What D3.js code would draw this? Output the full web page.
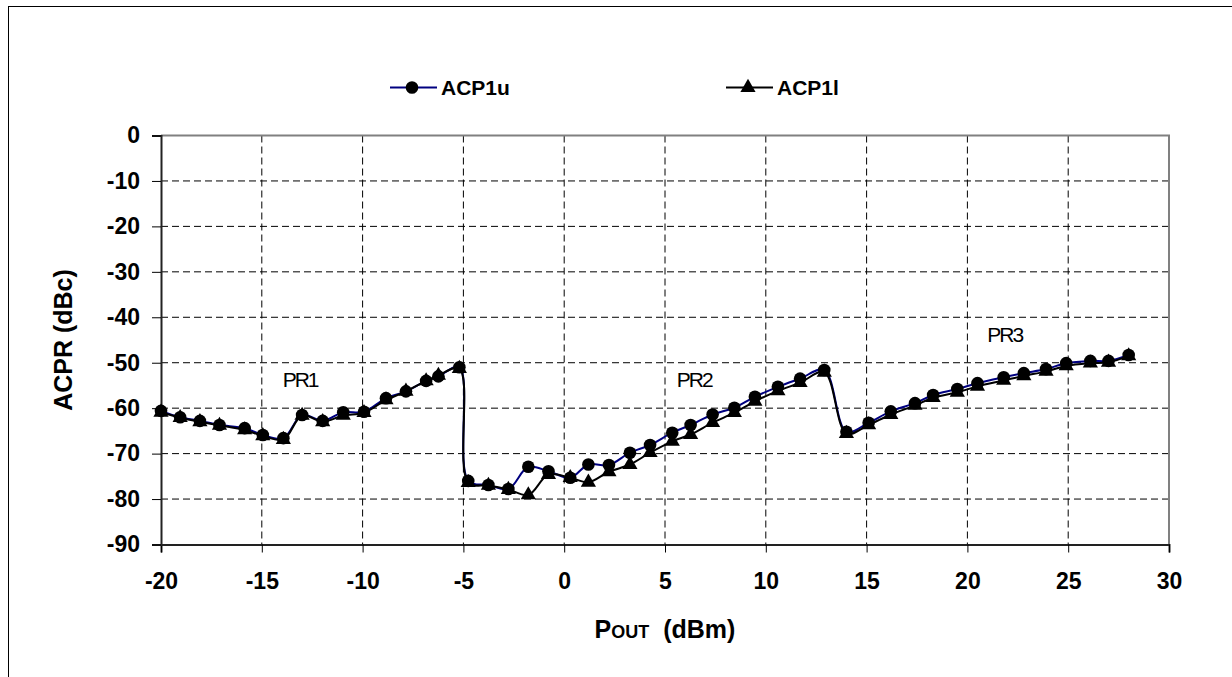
<!DOCTYPE html>
<html>
<head>
<meta charset="utf-8">
<script src="https://cdn.jsdelivr.net/npm/d3@7"></script>
<style>
  body { margin: 0; background: #fff; }
  svg { font-family: Arial, "Liberation Sans", sans-serif; }
</style>
</head>
<body>
<svg id="chart" width="1232" height="677"></svg>
<script>
// output power (dBm), shared by both series
const pout = [-20, -19.05, -18.07, -17.1, -15.85, -14.95, -13.93, -13.0, -11.98, -10.96, -9.93, -8.84,
  -7.85, -6.85, -6.24, -5.2, -4.76, -3.76, -2.77, -1.78, -0.78, 0.3, 1.2, 2.22, 3.26, 4.26, 5.36, 6.27,
  7.36, 8.44, 9.46, 10.6, 11.7, 12.9, 14.0, 15.1, 16.2, 17.4, 18.3, 19.5, 20.5, 21.8, 22.8, 23.9, 24.9,
  26.1, 27.0, 28.0];

const acp1u = [-60.6, -62.0, -62.8, -63.7, -64.4, -65.9, -66.6, -61.5, -62.8, -60.9, -60.8, -57.8,
  -56.3, -54.0, -53.0, -51.0, -76.0, -76.9, -77.8, -72.9, -73.9, -75.3, -72.4, -72.5, -69.8, -68.1,
  -65.4, -63.7, -61.4, -59.9, -57.5, -55.3, -53.5, -51.6, -65.2, -63.2, -60.7, -58.9, -57.1, -55.8,
  -54.5, -53.2, -52.3, -51.4, -50.1, -49.6, -49.6, -48.3];

const acp1l = [-60.9, -62.1, -63.0, -63.8, -64.8, -66.1, -66.9, -61.6, -63.0, -61.6, -61.0, -58.2,
  -56.3, -54.0, -52.8, -51.3, -76.4, -77.0, -77.9, -79.1, -74.6, -75.3, -76.3, -74.0, -72.4, -69.8,
  -67.3, -65.8, -63.2, -61.0, -58.5, -56.2, -54.4, -52.1, -65.6, -63.7, -61.4, -59.4, -57.7, -56.5,
  -55.2, -53.9, -52.9, -51.9, -50.7, -50.1, -49.9, -48.5];

const xTicks = [-20, -15, -10, -5, 0, 5, 10, 15, 20, 25, 30];
const yTicks = [0, -10, -20, -30, -40, -50, -60, -70, -80, -90];

const regions = [
  {label: "PR1", x: -13.1, y: -55.3},
  {label: "PR2", x: 6.45, y: -55.3},
  {label: "PR3", x: 21.85, y: -45.4}
];

const series = [
  {name: "ACP1u", values: acp1u, color: "#000080", marker: d3.symbolCircle, legendX: 390},
  {name: "ACP1l", values: acp1l, color: "#000000", marker: d3.symbolTriangle, legendX: 726}
];

const svg = d3.select("#chart");
const plotL = 161, plotR = 1169, plotT = 135.5, plotB = 544.5;

const x = d3.scaleLinear().domain([-20, 30]).range([plotL, plotR]);
const y = d3.scaleLinear().domain([-90, 0]).range([plotB, plotT]);

// outer chart border (right/bottom run off the page like the original)
svg.append("rect")
  .attr("x", 8.5).attr("y", 6.5)
  .attr("width", 1240).attr("height", 700)
  .attr("fill", "none").attr("stroke", "#000").attr("stroke-width", 1);

// grid
svg.append("g")
  .selectAll("line")
  .data(yTicks.filter(d => d > -90 && d < 0))
  .join("line")
  .attr("x1", plotL).attr("x2", plotR)
  .attr("y1", d => y(d)).attr("y2", d => y(d))
  .attr("stroke", "#000").attr("stroke-dasharray", "7,4");

svg.append("g")
  .selectAll("line")
  .data(xTicks.filter(d => d > -20 && d < 30))
  .join("line")
  .attr("x1", d => x(d)).attr("x2", d => x(d))
  .attr("y1", plotT).attr("y2", plotB)
  .attr("stroke", "#000").attr("stroke-dasharray", "7,4");

// plot area border top/right
svg.append("path")
  .attr("d", `M${plotL},${plotT}H${plotR}V${plotB}`)
  .attr("fill", "none").attr("stroke", "#808080").attr("stroke-width", 2);

// axes (plain hyphen for negatives, like the original)
const fmt = d => String(d);
const xAxis = d3.axisBottom(x).tickValues(xTicks).tickSize(8).tickPadding(20).tickFormat(fmt);
const yAxis = d3.axisLeft(y).tickValues(yTicks).tickSize(9).tickPadding(12).tickFormat(fmt);

const gx = svg.append("g").attr("transform", `translate(0,${plotB})`).call(xAxis);
const gy = svg.append("g").attr("transform", `translate(${plotL},0)`).call(yAxis);

[gx, gy].forEach(g => {
  g.select(".domain").attr("stroke", "#222").attr("stroke-width", 2);
  g.selectAll(".tick line").attr("stroke", "#000");
  g.selectAll(".tick text")
    .attr("fill", "#000")
    .style("font-family", 'Arial, "Liberation Sans", sans-serif')
    .style("font-size", "23px")
    .style("font-weight", "bold");
});
gx.selectAll(".tick text").attr("dy", "0.71em").attr("y", 28);

// lines + markers
const line = d3.line()
  .x((d, i) => x(pout[i]))
  .y(d => y(d))
  .curve(d3.curveCatmullRom.alpha(0.5));

series.forEach(s => {
  svg.append("path")
    .datum(s.values)
    .attr("d", line)
    .attr("fill", "none")
    .attr("stroke", s.color)
    .attr("stroke-width", 2);
});

series.slice().reverse().forEach(s => {
  const sym = d3.symbol().type(s.marker).size(s.marker === d3.symbolCircle ? 125 : 100);
  svg.append("g")
    .selectAll("path")
    .data(s.values)
    .join("path")
    .attr("d", sym)
    .attr("transform", (d, i) => `translate(${x(pout[i])},${y(d)})`)
    .attr("fill", "#000");
});

// region labels
svg.append("g")
  .selectAll("text")
  .data(regions)
  .join("text")
  .attr("x", d => x(d.x))
  .attr("y", d => y(d.y))
  .attr("text-anchor", "middle")
  .attr("font-size", 21)
  .attr("letter-spacing", -2)
  .text(d => d.label);

// legend
const legend = svg.append("g")
  .selectAll("g")
  .data(series)
  .join("g")
  .attr("transform", d => `translate(${d.legendX},87.5)`);

legend.append("line")
  .attr("x1", 0).attr("x2", 47)
  .attr("stroke", d => d.color).attr("stroke-width", 2);
legend.append("path")
  .attr("d", d => d3.symbol().type(d.marker).size(d.marker === d3.symbolCircle ? 125 : 100)())
  .attr("transform", "translate(22,0)")
  .attr("fill", "#000");
legend.append("text")
  .attr("x", 51).attr("y", 7.5)
  .attr("font-size", 21).attr("font-weight", "bold")
  .text(d => d.name);

// axis titles
svg.append("text")
  .attr("transform", `translate(72,${(plotT + plotB) / 2}) rotate(-90)`)
  .attr("text-anchor", "middle")
  .attr("font-size", 25).attr("font-weight", "bold")
  .text("ACPR (dBc)");

const xt = svg.append("text")
  .attr("x", (plotL + plotR) / 2).attr("y", 638)
  .attr("text-anchor", "middle")
  .attr("font-size", 25).attr("font-weight", "bold");
xt.append("tspan").text("P");
xt.append("tspan").attr("font-size", 18).text("OUT");
xt.append("tspan").text("  (dBm)").attr("xml:space", "preserve");
</script>
</body>
</html>
